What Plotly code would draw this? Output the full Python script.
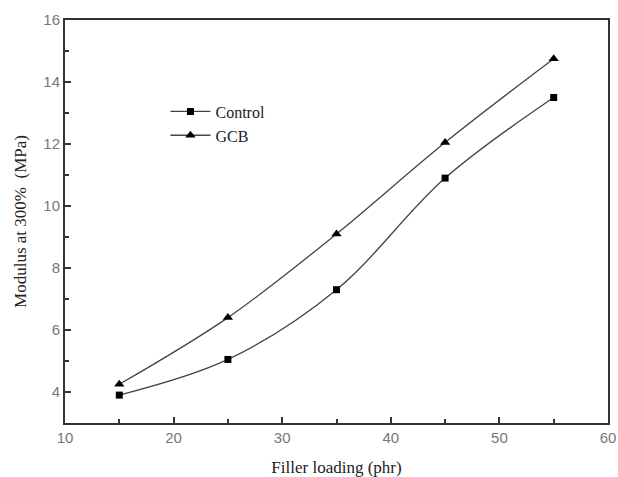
import plotly.graph_objects as go

filler = [15, 25, 35, 45, 55]
control = [3.9, 5.05, 7.3, 10.9, 13.5]
gcb = [4.25, 6.4, 9.1, 12.05, 14.75]

fig = go.Figure()
fig.add_trace(go.Scatter(x=filler, y=control, name="Control", mode="lines+markers",
                         line=dict(shape="spline", color="#444", width=1.3),
                         marker=dict(symbol="square", size=7, color="black")))
fig.add_trace(go.Scatter(x=filler, y=gcb, name="GCB", mode="lines+markers",
                         line=dict(shape="spline", color="#444", width=1.3),
                         marker=dict(symbol="triangle-up", size=9, color="black")))

axis_common = dict(showline=True, linecolor="#333", linewidth=2, mirror=True,
                   ticks="inside", ticklen=6, tickwidth=1.5, tickcolor="#333",
                   showgrid=False, zeroline=False, automargin=False,
                   tickfont=dict(family="Liberation Sans, Arial", size=15, color="#777"))

fig.update_xaxes(range=[10, 60], dtick=10, tick0=10,
                 minor=dict(ticks="inside", dtick=5, tick0=10, ticklen=4, tickwidth=1.5, tickcolor="#333"),
                 title=dict(text="Filler loading (phr)", standoff=18,
                            font=dict(family="Liberation Serif, Times New Roman", size=17, color="#222")),
                 **axis_common)
fig.update_yaxes(range=[3, 16], dtick=2, tick0=0,
                 minor=dict(ticks="inside", dtick=1, tick0=0, ticklen=4, tickwidth=1.5, tickcolor="#333"),
                 title=dict(text="Modulus at 300%  (MPa)", standoff=12,
                            font=dict(family="Liberation Serif, Times New Roman", size=17, color="#222")),
                 **axis_common)

fig.update_layout(width=618, height=477, margin=dict(l=65, r=10, t=20, b=54),
                  paper_bgcolor="white", plot_bgcolor="white",
                  legend=dict(x=0.185, y=0.815, xanchor="left", yanchor="top",
                              bgcolor="rgba(0,0,0,0)", tracegroupgap=0,
                              font=dict(family="Liberation Serif, Times New Roman", size=16, color="#222"),
                              itemwidth=40))

fig.write_html("out.html", config={"displayModeBar": False},
               post_script="document.body.style.margin='0';document.body.style.overflow='hidden';")
